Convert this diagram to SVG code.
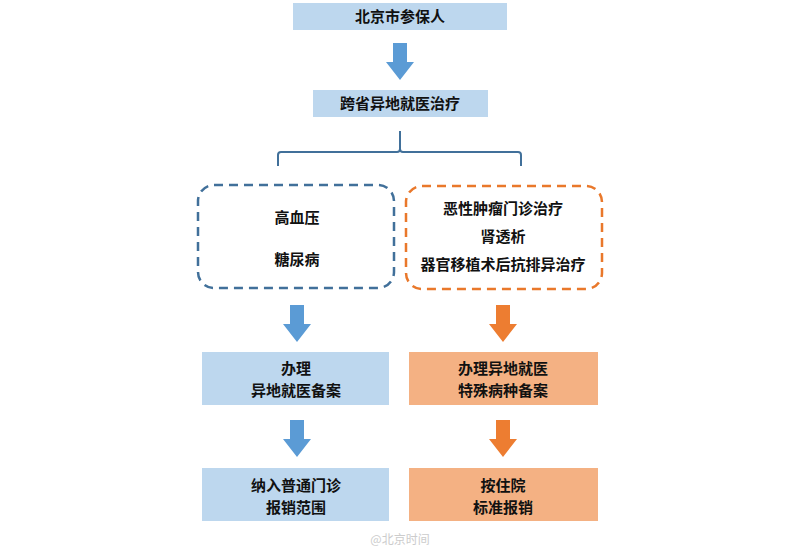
<svg xmlns="http://www.w3.org/2000/svg" width="800" height="550" viewBox="0 0 800 550">
<style>
.t{font-family:"Liberation Serif","Noto Sans CJK SC",serif;font-size:15px;font-weight:bold;fill:#111;text-anchor:middle;dominant-baseline:central}
.bb{fill:#bdd7ee}
.ob{fill:#f4b183}
.ba{fill:#5b9bd5}
.oa{fill:#ed7d31}
</style>
<defs>
<path id="arr" d="M-7,0 H7 V19 H14 L0,37 L-14,19 H-7 Z"/>
</defs>
<rect width="800" height="550" fill="#fff"/>
<g id="n1"><rect class="bb" x="293" y="3" width="214" height="27"/><text class="t" x="400" y="17">北京市参保人</text></g>
<g id="n2"><rect class="bb" x="313" y="90" width="175" height="27"/><text class="t" x="400" y="104">跨省异地就医治疗</text></g>
<g id="n3"><rect x="198" y="185" width="196" height="103" rx="16" fill="none" stroke="#41709a" stroke-width="2.5" stroke-dasharray="9,6"/><text class="t" x="297" y="218">高血压</text><text class="t" x="297" y="260">糖尿病</text></g>
<g id="n4"><rect x="406" y="186" width="196" height="103" rx="16" fill="none" stroke="#e9782b" stroke-width="2.5" stroke-dasharray="9,6"/><text class="t" x="503" y="209">恶性肿瘤门诊治疗</text><text class="t" x="503" y="237">肾透析</text><text class="t" x="503" y="265">器官移植术后抗排异治疗</text></g>
<g id="n5"><rect class="bb" x="202" y="352" width="187" height="53"/><text class="t" x="296" y="369">办理</text><text class="t" x="296" y="391">异地就医备案</text></g>
<g id="n6"><rect class="ob" x="409" y="352" width="189" height="53"/><text class="t" x="503" y="369">办理异地就医</text><text class="t" x="503" y="391">特殊病种备案</text></g>
<g id="n7"><rect class="bb" x="202" y="468" width="187" height="53"/><text class="t" x="296" y="486">纳入普通门诊</text><text class="t" x="296" y="508">报销范围</text></g>
<g id="n8"><rect class="ob" x="409" y="468" width="189" height="53"/><text class="t" x="503" y="486">按住院</text><text class="t" x="503" y="508">标准报销</text></g>
<g id="connectors">
<use href="#arr" class="ba" x="400" y="43"/>
<path d="M278,166 V155 Q278,152 281,152 H397 Q400,152 400,149 V131 M400,149 Q400,152 403,152 H518 Q521,152 521,155 V166" fill="none" stroke="#41709a" stroke-width="2"/>
<use href="#arr" class="ba" x="297" y="305"/>
<use href="#arr" class="oa" x="503" y="305"/>
<use href="#arr" class="ba" x="297" y="420"/>
<use href="#arr" class="oa" x="503" y="420"/>
</g>
<text x="400" y="538" style="font-family:'Noto Sans CJK SC',sans-serif;font-size:12px;fill:#ccc;text-anchor:middle;dominant-baseline:central">@北京时间</text>
</svg>
